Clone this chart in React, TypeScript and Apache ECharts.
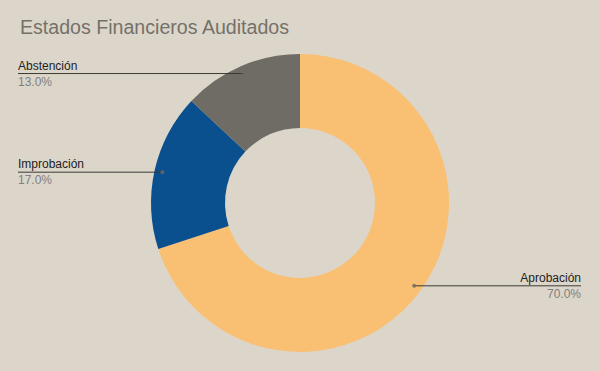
import React, { useEffect, useRef } from "react";
import * as echarts from "echarts";

const TITLE = "Estados Financieros Auditados";
const categories = ["Aprobación", "Improbación", "Abstención"];
const values = [70, 17, 13];
const colors = ["#f9bf72", "#0a4f8e", "#6e6c64"];

const W = 600;
const H = 371;
const EDGE_L = 18;
const EDGE_R = 19;
const FONT = "Liberation Sans, Arial, sans-serif";

export default function App() {
  const ref = useRef<HTMLDivElement>(null);
  useEffect(() => {
    if (!ref.current) return;
    const chart = echarts.init(ref.current, undefined, { renderer: "svg" });
    const total = values.reduce((a, b) => a + b, 0);
    const pieData = categories.map((name, i) => ({
      name,
      value: values[i],
      itemStyle: { color: colors[i] },
    }));
    let cum = 0;
    const dots = values.map((v) => {
      const mid = cum + v / 2;
      cum += v;
      return [1, (mid / total) * 100];
    });
    const center = ["50%", "54.7%"];
    chart.setOption({
      animation: false,
      backgroundColor: "#dcd6ca",
      title: {
        text: TITLE,
        left: 20,
        top: 17,
        padding: 0,
        textStyle: {
          fontFamily: FONT,
          fontSize: 19.6,
          fontWeight: "normal",
          color: "#74716a",
        },
      },
      polar: { center, radius: 141 },
      radiusAxis: { type: "value", min: 0, max: 1, show: false },
      angleAxis: {
        type: "value",
        min: 0,
        max: 100,
        startAngle: 90,
        clockwise: true,
        show: false,
      },
      series: [
        {
          type: "pie",
          z: 1,
          center,
          radius: [75, 149],
          startAngle: 90,
          clockwise: true,
          label: { show: false },
          labelLine: { show: false },
          emphasis: { disabled: true },
          silent: true,
          data: pieData,
        },
        {
          type: "pie",
          z: 3,
          center,
          radius: [0, 141],
          startAngle: 90,
          clockwise: true,
          silent: true,
          emphasis: { disabled: true },
          itemStyle: { color: "rgba(0,0,0,0)", borderWidth: 0 },
          data: categories.map((name, i) => ({ name, value: values[i] })),
          label: {
            show: true,
            position: "outside",
            fontFamily: FONT,
            formatter: (p: any) =>
              `{n|${p.name}}\n{p|${((p.value / total) * 100).toFixed(1)}%}`,
            rich: {
              n: { fontSize: 12, color: "#222222", lineHeight: 16, fontFamily: FONT },
              p: { fontSize: 12, color: "#808080", lineHeight: 16, fontFamily: FONT },
            },
          },
          labelLine: {
            show: true,
            length: 0,
            length2: 0,
            lineStyle: { color: "#3a3934", width: 1 },
          },
          labelLayout: (params: any) => {
            const pts = params.labelLinePoints;
            if (!pts || !pts.length) return {};
            const start = pts[0];
            const isLeft = start[0] < W / 2;
            const ex = isLeft ? EDGE_L : W - EDGE_R;
            return {
              x: ex,
              y: start[1],
              align: isLeft ? "left" : "right",
              verticalAlign: "middle",
              labelLinePoints: [
                [start[0], start[1]],
                [ex, start[1]],
              ],
            };
          },
        },
        {
          type: "scatter",
          coordinateSystem: "polar",
          symbolSize: 4,
          z: 5,
          silent: true,
          itemStyle: { color: "#6f6c5c" },
          data: dots,
        },
      ],
    });
    return () => chart.dispose();
  }, []);
  return (
    <div
      ref={ref}
      style={{ position: "fixed", left: 0, top: 0, width: W, height: H }}
    />
  );
}
